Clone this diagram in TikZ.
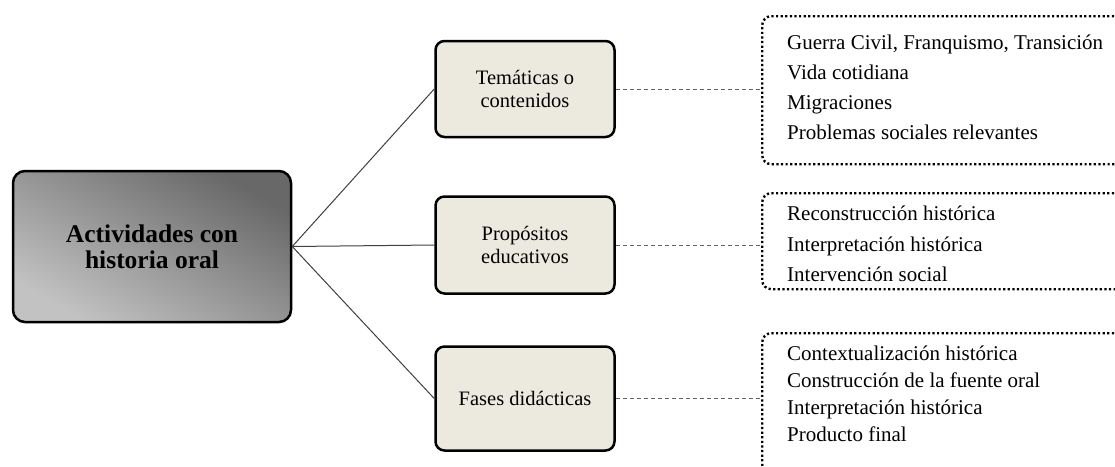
\documentclass[tikz,border=0pt]{standalone}
\usepackage{fontspec}
\setmainfont{Liberation Serif}
\definecolor{boxfill}{RGB}{236,233,223}
\definecolor{connc}{RGB}{64,64,64}
\definecolor{dashc}{RGB}{100,100,100}
\definecolor{lightg}{RGB}{194,194,194}
\definecolor{darkg}{RGB}{104,104,104}
\begin{document}
\begin{tikzpicture}[x=1pt,y=-1pt,
 mainbox/.style={draw=black, line width=2.5pt, rounded corners=12pt, left color=darkg, right color=lightg, shading angle=-30, minimum width=278pt, minimum height=151pt, inner sep=0pt, align=center, font=\fontsize{25.5}{26}\selectfont\bfseries},
 catbox/.style={draw=black, line width=2.5pt, rounded corners=9pt, fill=boxfill, minimum width=179pt, inner sep=0pt, align=center, font=\fontsize{20.5}{23}\selectfont},
 listbox/.style={draw=black, line width=2.4pt, dash pattern=on 2.2pt off 2.4pt, rounded corners=9pt, minimum width=370pt, inner sep=0pt, anchor=north west},
 listtext/.style={anchor=west, align=left, inner sep=0pt},
 link/.style={draw=connc, line width=1pt},
 dlink/.style={draw=dashc, line width=1pt, dash pattern=on 4pt off 3pt}]
\useasboundingbox (0,0) rectangle (1115,466);
\clip (0,0) rectangle (1115,466);
\fill[white] (0,0) rectangle (1115,466);

\node[mainbox] (main) at (152,246.5) {Actividades con\\historia oral};

\node[catbox, minimum height=96pt] (tem) at (525,89) {Temáticas o\\contenidos};
\node[catbox, minimum height=97pt] (pro) at (525,245) {Propósitos\\educativos};
\node[catbox, minimum height=104pt] (fas) at (525,398.5) {Fases didácticas};

\node[listbox, minimum height=148pt] (l1) at (761,15) {};
\node[listbox, minimum height=96pt] (l2) at (761,192) {};
\node[listbox, minimum height=140pt] (l3) at (761,332) {};

\node[listtext, font=\fontsize{21}{30}\selectfont] (t1) at (787,87) {Guerra Civil, Franquismo, Transición\\Vida cotidiana\\Migraciones\\Problemas sociales relevantes};
\node[listtext, font=\fontsize{21}{30.5}\selectfont] (t2) at (787,244) {Reconstrucción histórica\\Interpretación histórica\\Intervención social};
\node[listtext, font=\fontsize{21}{27}\selectfont] (t3) at (787,393.5) {Contextualización histórica\\Construcción de la fuente oral\\Interpretación histórica\\Producto final};

\draw[link] (main.east) -- (tem.west);
\draw[link] (main.east) -- (pro.west);
\draw[link] (main.east) -- (fas.west);

\draw[dlink] (tem.east) -- (tem.east -| l1.west);
\draw[dlink] (pro.east) -- (pro.east -| l2.west);
\draw[dlink] (fas.east) -- (fas.east -| l3.west);
\end{tikzpicture}
\end{document}
